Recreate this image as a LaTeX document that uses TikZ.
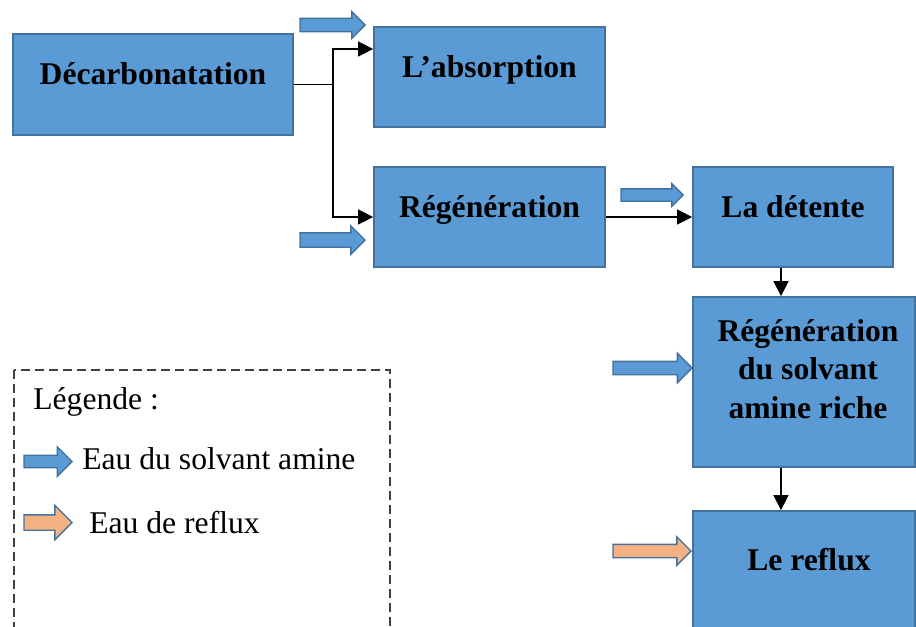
\documentclass[tikz,border=0pt]{standalone}
\usepackage{fontspec}
\setmainfont{Liberation Serif}
\usetikzlibrary{arrows.meta,shapes.arrows}
\definecolor{bleubloc}{HTML}{5B9BD5}
\definecolor{bordbloc}{HTML}{41719C}
\definecolor{orangeau}{HTML}{F4B183}
\tikzset{
  bloc/.style={rectangle, draw=bordbloc, fill=bleubloc, line width=1pt, inner sep=0pt},
  titre/.style={font=\bfseries\fontsize{18}{22}\selectfont, align=center, inner sep=0pt},
  texte/.style={font=\fontsize{18}{22}\selectfont, inner sep=0pt, anchor=base west},
  lien/.style={line width=0.6pt, -{Triangle[length=0.3cm,width=0.3cm]}},
  eau/.style={single arrow, single arrow head extend=.13cm, inner xsep=0pt, inner ysep=.12cm,
    draw=bordbloc, line width=.8pt, fill=bleubloc, anchor=tip},
  eaureflux/.style={eau, fill=orangeau}
}
\begin{document}
\begin{tikzpicture}[x=0.02cm,y=-0.02cm]
\useasboundingbox (0,0) rectangle (916,626);
% Blocs
\node[bloc, minimum width=5.6cm, minimum height=2.02cm] (decarb) at (153,84.5) {};
\node[bloc, minimum width=4.62cm, minimum height=2cm] (absorp) at (489.5,77) {};
\node[bloc, minimum width=4.62cm, minimum height=2cm] (regen) at (489.5,217) {};
\node[bloc, minimum width=4cm, minimum height=2cm] (detente) at (793,217) {};
\node[bloc, minimum width=4.44cm, minimum height=3.4cm] (regsolv) at (804,382) {};
\node[bloc, minimum width=4.44cm, minimum height=2.36cm] (reflux) at (804,570) {};
% Textes des blocs
\node[titre, anchor=base] (decarb-t) at (decarb.center) {Décarbonatation};
\node[titre, anchor=base] (absorp-t) at (absorp.center) {L’absorption};
\node[titre, anchor=base] (regen-t) at (regen.center) {Régénération};
\node[titre, anchor=base] (detente-t) at (detente.center) {La détente};
\node[titre] (regsolv-t) at (808,369) {Régénération\\du solvant\\amine riche};
\node[titre, anchor=base] (reflux-t) at ([xshift=.1cm]reflux.center) {Le reflux};
% Liaisons
\coordinate (noeud) at (333,84.5);
\draw[line width=0.6pt] (decarb.east) -- (noeud);
\draw[lien] (noeud) |- ([yshift=.56cm]absorp.west);
\draw[lien] (noeud) |- (regen.west);
\draw[lien] (regen.east) -- (detente.west);
\coordinate (axe) at ([xshift=-.24cm]detente.south);
\draw[lien] (axe) -- (axe |- regsolv.north);
\draw[lien] (axe |- regsolv.south) -- (axe |- reflux.north);
% Entrees d'eau
\node[eau, minimum height=1.3cm] (eau1) at (366,25) {};
\node[eau, minimum height=1.3cm, inner ysep=.13cm, single arrow head extend=.14cm] (eau2) at (366,240) {};
\node[eau, minimum height=1.24cm, inner ysep=.11cm, single arrow head extend=.1cm] (eau3) at (684,195) {};
\node[eau, minimum height=1.58cm, single arrow head extend=.16cm] (eau4) at (693,368) {};
\node[eaureflux, minimum height=1.56cm, single arrow head extend=.15cm] (eau5) at (692,551) {};
% Legende
\draw[line width=0.7pt, black!75, dash pattern=on 0.18cm off 0.1cm] (14,370) rectangle (390,660);
\node[texte] (leg-t) at (33,409) {Légende :};
\node[eau, minimum height=.96cm, inner ysep=.11cm, single arrow head extend=.17cm] (leg1) at (73,461.5) {};
\node[texte] (leg1-t) at (82,469) {Eau du solvant amine};
\node[eaureflux, minimum height=.96cm, inner ysep=.14cm, single arrow head extend=.19cm] (leg2) at (73,522.5) {};
\node[texte] (leg2-t) at (89,533) {Eau de reflux};
\end{tikzpicture}
\end{document}
